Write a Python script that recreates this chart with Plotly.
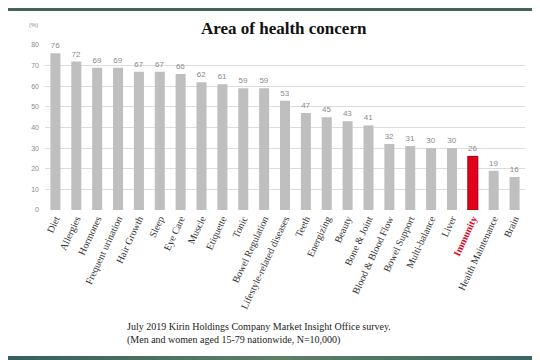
import plotly.graph_objects as go

categories = ["Diet", "Allergies", "Hormones", "Frequent urination", "Hair Growth", "Sleep",
              "Eye Care", "Muscle", "Etiquette", "Tonic", "Bowel Regulation",
              "Lifestyle-related diseases", "Teeth", "Energizing", "Beauty", "Bone & Joint",
              "Blood & Blood Flow", "Bowel Support", "Multi-balance", "Liver", "Immunity",
              "Health Maintenance", "Brain"]
values = [76, 72, 69, 69, 67, 67, 66, 62, 61, 59, 59, 53, 47, 45, 43, 41, 32, 31, 30, 30, 26, 19, 16]
highlight = "Immunity"
y_ticks = [0, 10, 20, 30, 40, 50, 60, 70, 80]

W, H = 540, 360
L, R, T, B = 37, 23, 37, 158
pw, ph = W - L - R, H - T - B

def px(x):
    return (x - L) / pw

def py(y):
    return 1 - (y - T) / ph

colors = ["#e3001b" if c == highlight else "#bfbfbf" for c in categories]
lines = ["#9a0010" if c == highlight else "#bfbfbf" for c in categories]
ticktext = ["<span style='color:#e3001b'><b>%s</b></span>" % c if c == highlight else c
            for c in categories]

fig = go.Figure(go.Bar(
    x=categories, y=values,
    marker=dict(color=colors, line=dict(color=lines, width=[1 if c == highlight else 0 for c in categories])),
    text=[str(v) for v in values], textposition="outside",
    textfont=dict(family="Liberation Sans", size=8, color="#8a8a8a"),
    cliponaxis=False,
))

shapes = []
# top border strip
shapes.append(dict(type="rect", xref="paper", yref="paper", x0=px(0), x1=px(540), y0=py(0), y1=py(3),
                   fillcolor="#42625a", line_width=0, layer="above"))
# bottom gradient strip
stops = [(0, (52, 96, 96)), (0.5, (96, 128, 98)), (1, (58, 100, 102))]
N = 40
for i in range(N):
    t = (i + 0.5) / N
    if t <= 0.5:
        a, b, f = stops[0][1], stops[1][1], t / 0.5
    else:
        a, b, f = stops[1][1], stops[2][1], (t - 0.5) / 0.5
    c = tuple(int(a[k] + (b[k] - a[k]) * f) for k in range(3))
    shapes.append(dict(type="rect", xref="paper", yref="paper",
                       x0=px(540 * i / N), x1=px(540 * (i + 1) / N + 1), y0=py(348), y1=py(361),
                       fillcolor="rgb(%d,%d,%d)" % c, line_width=0, layer="above"))
# cover gridline behind title
shapes.append(dict(type="rect", xref="paper", yref="paper", x0=px(188), x1=px(365), y0=py(32), y1=py(42),
                   fillcolor="white", line_width=0, layer="below"))
# hide zero gridline
shapes.append(dict(type="rect", xref="paper", yref="paper", x0=0, x1=1, y0=py(206), y1=py(201),
                   fillcolor="white", line_width=0, layer="below"))

fig.update_layout(
    width=W, height=H,
    margin=dict(l=L, r=R, t=T, b=B, autoexpand=False),
    paper_bgcolor="white", plot_bgcolor="white",
    showlegend=False, bargap=0.52,
    shapes=shapes,
    xaxis=dict(tickangle=-65, tickvals=categories, ticktext=ticktext, automargin=False,
               tickfont=dict(family="Liberation Serif", size=10, color="#333333"),
               showline=False, ticks="", showgrid=False),
    yaxis=dict(range=[0, 80], tickvals=y_ticks, automargin=False,
               tickfont=dict(family="Liberation Sans", size=7, color="#8a8a8a"),
               showgrid=True, gridcolor="#dcdcdc", gridwidth=1, zeroline=False, showline=False,
               ticklabelstandoff=5),
    annotations=[
        dict(text="<b>Area of health concern</b>", xref="paper", yref="paper", x=px(276), y=py(20),
             xanchor="center", yanchor="middle", showarrow=False,
             font=dict(family="Liberation Serif", size=17, color="#111111")),
        dict(text="(%)", xref="paper", yref="paper", x=px(25), y=py(17),
             xanchor="center", yanchor="middle", showarrow=False,
             font=dict(family="Liberation Sans", size=6, color="#8a8a8a")),
        dict(text="July 2019 Kirin Holdings Company Market Insight Office survey.<br>"
                  "(Men and women aged 15-79 nationwide, N=10,000)",
             xref="paper", yref="paper", x=px(117), y=py(325), align="left",
             xanchor="left", yanchor="middle", showarrow=False,
             font=dict(family="Liberation Serif", size=10, color="#222222")),
    ],
)

fig.write_html("out.html")
